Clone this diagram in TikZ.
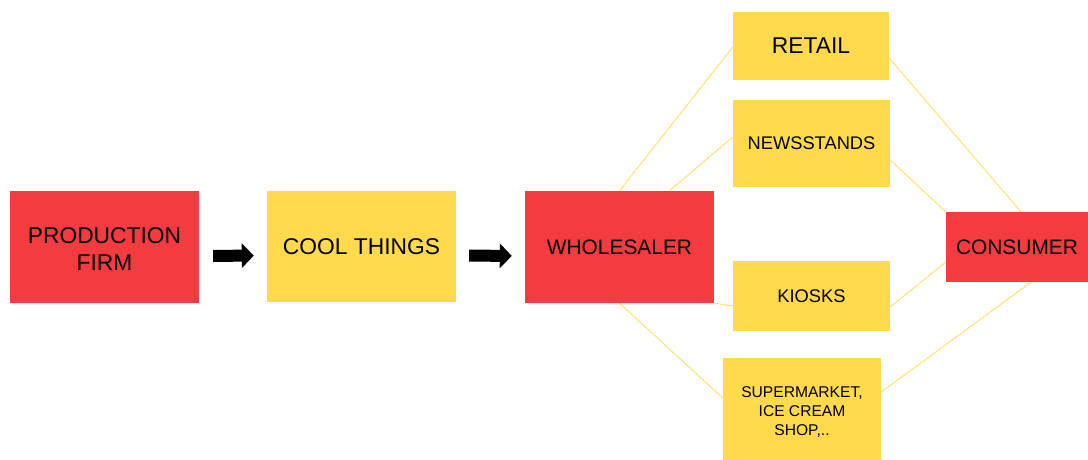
\documentclass[tikz,border=0pt]{standalone}
\usepackage{fontspec}
\setmainfont{Liberation Sans}
\usetikzlibrary{arrows.meta,backgrounds}
\definecolor{boxred}{RGB}{244,59,64}
\definecolor{boxyellow}{RGB}{254,218,76}
\definecolor{linkyellow}{RGB}{254,226,122}
\tikzset{
  redbox/.style={fill=boxred, draw=none, inner sep=0pt, align=center, text=black},
  yellowbox/.style={fill=boxyellow, draw=none, inner sep=0pt, align=center, text=black},
  bigtext/.style={font=\fontsize{22.8}{27}\selectfont},
  midtext/.style={font=\fontsize{20.9}{24}\selectfont},
  smalltext/.style={font=\fontsize{18.3}{22}\selectfont},
  tinytext/.style={font=\fontsize{15.6}{19}\selectfont},
  link/.style={draw=linkyellow, line width=1.1pt},
  bigarrow/.style={draw=black, line width=12pt, -{Triangle[length=12pt,width=24pt]}}
}
\begin{document}
\begin{tikzpicture}[x=1pt,y=-1pt]
\useasboundingbox (0,0) rectangle (1088,460);

% main chain
\node[redbox, bigtext, minimum width=189pt, minimum height=112pt] (pf) at (104.5,247) {};
\node[bigtext, align=center, inner sep=0pt] (pftext) at (104.5,249) {PRODUCTION\\FIRM};
\node[yellowbox, bigtext, minimum width=189pt, minimum height=111pt] (cool) at (361.5,246.5) {COOL THINGS};
\node[redbox, midtext, minimum width=189pt, minimum height=112pt] (whole) at (619.5,247) {WHOLESALER};

% outlets
\node[yellowbox, bigtext, minimum width=156pt, minimum height=68pt] (retail) at (811,46) {RETAIL};
\node[yellowbox, smalltext, minimum width=157pt, minimum height=87pt] (news) at (811.5,143.5) {NEWSSTANDS};
\node[yellowbox, smalltext, minimum width=157pt, minimum height=70pt] (kiosk) at (811.5,296) {KIOSKS};
\node[yellowbox, minimum width=158pt, minimum height=102pt] (super) at (802,409) {};
\node[tinytext, align=center, inner sep=0pt] (supertext) at (802,412.5) {SUPERMARKET,\\ICE CREAM\\SHOP,..};

\node[redbox, midtext, minimum width=142pt, minimum height=70pt] (cons) at (1017,247) {CONSUMER};

% arrows along the chain
\draw[bigarrow, shorten <=14pt, shorten >=13pt] ([yshift=-9pt]pf.east) -- ([yshift=-9pt]cool.west);
\draw[bigarrow, shorten <=13pt, shorten >=13pt] ([yshift=-9pt]cool.east) -- ([yshift=-9pt]whole.west);

% distribution links
\begin{pgfonlayer}{background}
\draw[link] ([yshift=-1pt]retail.west) -- (whole.north);
\draw[link] ([yshift=6.5pt]news.west) -- ([xshift=50pt]whole.north);
\draw[link] (whole.south east) -- ([yshift=-10pt]kiosk.west);
\draw[link] (whole.south) -- ([yshift=11pt]super.west);
\draw[link] ([yshift=-12pt]retail.east) -- ([xshift=4pt]cons.north);
\draw[link] ([yshift=-16.5pt]news.east) -- (cons.north west);
\draw[link] ([yshift=-11pt]kiosk.east) -- ([yshift=-15pt]cons.west);
\draw[link] ([yshift=17pt]super.east) -- ([xshift=14pt]cons.south);
\end{pgfonlayer}
\end{tikzpicture}
\end{document}
